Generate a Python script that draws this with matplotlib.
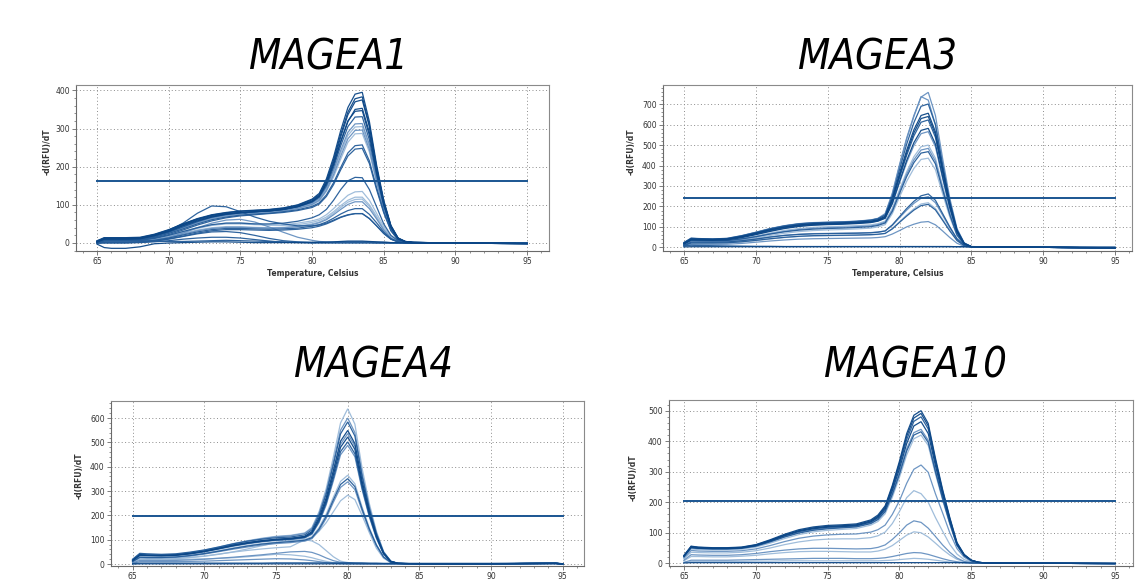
import matplotlib
matplotlib.use('Agg')
import matplotlib.pyplot as plt
from matplotlib import font_manager as fm
from matplotlib.ticker import MultipleLocator, AutoMinorLocator

GENES = ['MAGEA1', 'MAGEA3', 'MAGEA4', 'MAGEA10']
THRESHOLDS = [163, 243, 196, 205]

# ---------------- MAGEA1 ----------------
TEMP_A = [65, 65.5, 66, 67, 68, 69, 70, 71, 72, 73, 74, 75, 76, 77, 78, 79, 80, 80.5,
          81, 81.5, 82, 82.5, 83, 83.5, 84, 84.5, 85, 85.5, 86, 86.5, 87, 88, 90, 95]
MAGEA1_CURVES = [
    [4,13,13,13,14,22,34,50,64,74,80,84,86,88,92,100,115,130,168,225,295,355,390,395,318,205,112,46,13,4,2,1,0,-2],
    [3,12,12,12,13,21,33,48,62,73,79,83,85,87,91,99,113,127,163,218,285,343,378,383,308,198,108,44,12,4,2,1,0,-2],
    [6,14,14,14,15,23,35,50,63,72,77,80,82,84,88,96,110,124,158,212,278,336,370,375,305,197,108,45,13,4,2,1,0,-1],
    [2,10,10,10,11,19,31,46,60,70,76,80,82,84,88,95,108,122,155,205,265,318,350,353,290,190,104,43,12,3,1,0,0,-2],
    [5,11,11,11,12,20,30,45,58,68,75,79,82,85,89,97,110,124,157,207,266,320,345,347,282,184,100,41,11,3,1,0,0,-1],
    [3,9,9,9,10,17,28,42,56,68,75,79,82,84,88,95,107,120,150,198,255,305,330,331,270,178,98,40,11,3,1,0,0,-1],
    [2,8,8,8,9,16,27,40,54,65,72,77,80,83,87,94,105,117,146,190,243,290,312,313,258,170,94,38,10,3,1,0,0,-1],
    [4,10,10,10,11,18,29,43,57,68,74,78,80,82,86,92,103,115,142,185,236,282,304,305,252,166,92,37,10,3,1,0,0,-1],
    [3,9,9,9,10,17,28,41,55,66,73,77,80,82,85,91,101,112,138,179,228,273,295,296,245,162,90,36,10,3,1,0,0,-1],
    [2,7,7,7,8,15,25,38,52,63,70,75,78,80,84,90,100,110,135,173,220,264,286,287,238,158,88,35,9,3,1,0,0,-1],
    [3,8,8,8,9,15,25,37,50,61,68,73,76,78,82,87,96,105,126,158,198,236,255,257,215,145,82,33,9,3,1,0,0,-1],
    [1,6,6,6,7,13,22,34,47,58,66,71,74,77,80,85,93,102,122,153,192,228,246,248,208,140,79,32,8,2,1,0,0,-1],
    [2,6,6,6,7,12,20,30,40,48,52,52,50,50,52,57,66,74,88,112,140,163,172,171,140,95,50,20,6,2,1,0,0,-1],
    [1,5,5,5,6,11,18,28,38,46,50,50,48,47,48,52,58,63,74,90,108,125,134,135,112,78,43,17,5,2,1,0,0,-1],
    [3,7,7,7,8,13,20,30,40,47,52,53,50,47,46,48,54,59,68,82,98,112,120,120,100,70,38,15,5,2,1,0,0,-1],
    [2,4,4,4,5,9,16,25,34,40,43,43,41,40,41,44,50,55,64,78,93,107,114,115,96,67,36,14,4,1,0,0,0,-1],
    [1,3,3,3,4,8,14,23,32,38,41,41,40,39,40,43,48,53,61,74,88,101,108,108,90,63,34,13,4,1,0,0,0,-1],
    [0,2,2,2,3,7,13,21,29,35,38,38,37,36,37,39,44,48,55,65,76,85,90,90,75,53,29,11,3,1,0,0,0,-1],
    [0,1,1,1,2,5,11,18,26,32,35,35,34,33,34,36,40,44,50,58,67,73,77,77,64,45,25,10,3,1,0,0,0,-1],
    [5,12,12,12,13,21,33,52,78,97,95,82,68,57,50,45,45,47,52,60,68,74,77,77,64,45,25,10,3,1,0,0,0,-1],
    [1,3,3,3,4,8,15,26,40,52,60,62,55,42,28,15,7,4,3,2,2,2,2,2,2,1,1,0,0,0,0,0,0,-1],
    [0,1,1,1,2,5,10,17,24,29,30,27,20,12,6,3,1,1,1,1,1,1,1,1,1,0,0,0,0,0,0,0,0,-1],
    [0,0,0,0,1,3,6,10,13,15,15,13,9,5,2,1,0,0,0,0,0,0,0,0,0,0,0,0,0,0,0,0,0,-1],
    [-3,-12,-14,-14,-10,-2,0,1,2,3,3,2,1,1,1,1,1,2,2,3,4,5,5,5,4,3,2,1,1,0,0,0,0,-2],
    [2,6,6,6,6,5,4,4,5,6,7,6,5,4,3,2,2,2,2,2,3,3,3,3,3,2,2,1,1,1,1,0,0,-1],
]
MAGEA1_SHADES = [0,0,0,0,0,1,2,3,2,3,1,1,1,3,3,3,2,1,1,1,2,1,1,0,1]

# ---------------- MAGEA3 ----------------
TEMP_B = [65, 65.5, 66, 67, 68, 69, 70, 71, 72, 73, 74, 75, 76, 77, 78, 78.5, 79, 79.5,
          80, 80.5, 81, 81.5, 82, 82.5, 83, 83.5, 84, 84.5, 85, 86, 88, 90, 95]
MAGEA3_CURVES = [
    [22,44,42,40,43,56,74,92,106,116,121,123,125,128,134,142,165,265,405,535,645,735,758,645,435,240,92,22,4,2,1,0,-3],
    [20,42,41,39,42,55,72,90,104,114,119,121,123,126,132,140,160,260,398,530,640,737,720,600,400,220,85,20,3,2,1,0,-3],
    [24,45,43,41,44,57,73,91,105,115,120,122,124,127,133,140,158,250,380,505,610,690,701,600,405,225,86,20,3,2,1,0,-3],
    [18,40,39,38,40,52,68,86,100,110,116,118,120,123,128,135,152,238,360,475,575,645,656,565,385,215,82,19,3,2,1,0,-3],
    [21,41,40,39,41,53,69,86,99,108,113,115,117,120,125,132,148,232,350,462,560,630,640,552,375,210,80,18,3,2,1,0,-3],
    [19,39,38,37,39,50,65,82,96,106,111,114,116,119,124,131,147,226,340,450,545,612,623,538,366,205,78,18,3,2,1,0,-3],
    [16,36,35,34,36,47,62,78,92,102,108,111,113,116,121,128,142,215,322,425,512,572,582,505,345,194,74,17,3,2,1,0,-3],
    [22,40,39,38,40,50,64,80,94,104,110,113,115,118,122,129,143,212,316,415,498,556,566,492,337,190,72,17,3,2,1,0,-3],
    [15,33,32,31,33,42,55,70,83,92,98,101,103,106,110,116,128,190,282,370,443,492,500,436,300,170,65,15,3,2,1,0,-3],
    [14,31,30,30,31,40,52,66,78,87,93,96,98,101,105,111,123,182,272,358,428,476,484,422,290,164,63,15,3,2,1,0,-3],
    [17,34,33,32,33,41,52,65,76,84,89,92,94,97,101,107,119,176,263,346,414,461,468,408,281,159,61,14,3,2,1,0,-3],
    [13,29,28,28,29,36,46,58,69,77,82,85,87,90,94,100,111,165,246,323,386,430,436,380,262,148,57,13,3,2,1,0,-3],
    [10,25,25,25,26,32,40,50,58,63,66,67,68,69,71,74,80,110,150,190,225,252,261,230,165,100,42,10,2,1,1,0,-2],
    [12,27,27,26,27,33,41,51,59,64,67,68,69,70,72,75,80,107,145,182,215,240,248,218,157,95,40,10,2,1,1,0,-2],
    [8,20,20,20,21,26,33,41,48,53,56,57,58,59,61,63,68,92,125,158,188,212,218,190,137,83,35,9,2,1,1,0,-2],
    [9,21,21,21,22,27,34,42,49,54,57,58,59,60,62,64,68,90,122,153,182,204,210,183,132,80,33,8,2,1,1,0,-2],
    [5,14,14,14,15,19,25,31,36,40,42,43,44,45,46,48,52,65,82,100,113,123,126,110,80,48,20,5,1,1,0,0,-2],
    [2,3,3,3,3,3,3,3,3,3,3,3,3,3,3,3,3,3,3,3,3,3,3,3,3,3,3,3,2,2,2,1,0],
    [8,10,9,8,7,6,5,5,4,4,4,4,4,4,4,4,4,4,4,4,4,4,4,4,4,4,3,3,3,2,2,1,1],
]
MAGEA3_SHADES = [2,2,1,0,0,1,0,2,3,2,1,3,1,2,3,1,2,0,1]

# ---------------- MAGEA4 ----------------
TEMP_C = [65, 65.5, 66, 67, 68, 69, 70, 71, 72, 73, 74, 75, 76, 77, 77.5, 78, 78.5, 79,
          79.5, 80, 80.5, 81, 81.5, 82, 82.5, 83, 83.5, 84, 85, 88, 90, 94.5, 95]
MAGEA4_CURVES = [
    [18,42,40,38,40,47,57,70,84,96,106,114,118,128,150,215,310,440,580,638,575,395,250,135,52,12,3,2,1,1,1,4,0],
    [16,40,38,36,38,45,55,68,82,94,104,112,116,126,146,208,298,420,550,600,540,372,236,128,50,12,3,2,1,1,1,4,0],
    [20,44,42,40,42,49,58,70,83,94,102,108,111,120,140,200,288,408,535,584,526,362,230,125,48,11,3,2,1,1,1,4,0],
    [15,38,36,35,37,44,53,65,78,88,96,102,106,114,133,190,272,385,505,549,495,342,218,118,46,11,3,2,1,1,1,3,0],
    [18,40,38,37,39,46,55,67,79,89,97,102,105,113,131,186,266,376,493,536,484,335,213,116,45,11,3,2,1,1,1,3,0],
    [14,36,35,34,36,42,51,63,75,85,93,99,103,111,128,181,259,366,480,522,471,326,208,113,44,10,3,2,1,1,1,3,0],
    [17,39,37,36,38,44,53,64,76,86,94,99,102,109,125,175,250,352,462,502,453,314,200,109,42,10,3,2,1,1,1,3,0],
    [13,35,34,33,35,41,50,61,73,83,91,97,100,107,122,170,243,342,449,488,441,306,195,106,41,10,3,2,1,1,1,3,0],
    [12,30,29,28,30,36,44,55,66,76,84,90,94,100,112,150,205,275,340,365,330,235,150,80,30,7,2,1,1,1,1,3,0],
    [10,28,27,27,29,35,43,53,64,74,82,88,92,98,108,144,196,264,327,351,318,227,145,78,29,7,2,1,1,1,1,3,0],
    [11,27,26,26,28,33,41,51,61,70,78,84,88,94,104,138,188,254,315,338,306,219,140,75,28,7,2,1,1,1,1,3,0],
    [8,22,21,21,22,27,33,41,49,56,62,67,71,100,110,135,170,215,260,283,265,200,130,65,24,6,2,1,1,1,1,3,0],
    [10,25,24,23,24,27,32,40,50,62,75,88,96,100,95,80,55,30,12,6,4,3,2,2,1,1,1,1,1,1,1,3,0],
    [5,15,15,14,15,17,20,24,28,33,38,44,50,52,48,38,25,14,7,4,3,2,2,1,1,1,1,1,1,1,1,2,0],
    [8,20,20,19,19,20,21,23,26,30,35,40,38,32,26,18,11,6,3,2,2,1,1,1,1,1,1,1,1,1,1,2,0],
    [3,10,10,10,10,11,12,14,16,18,20,22,21,17,14,10,6,3,2,1,1,1,1,1,1,1,1,1,1,1,1,2,0],
    [2,4,4,4,4,4,4,4,4,4,4,5,5,5,5,5,5,5,5,6,5,5,4,4,3,3,3,3,3,3,3,5,1],
    [0,1,1,1,1,1,1,1,1,1,1,1,1,1,1,1,1,1,1,1,1,1,1,1,1,1,1,1,1,1,1,1,0],
]
MAGEA4_SHADES = [3,2,1,0,2,0,1,2,3,1,2,3,3,2,3,2,1,0]

# ---------------- MAGEA10 ----------------
TEMP_D = [65, 65.5, 66, 67, 68, 69, 70, 71, 72, 73, 74, 75, 76, 77, 78, 78.5, 79, 79.5,
          80, 80.5, 81, 81.5, 82, 82.5, 83, 83.5, 84, 84.5, 85, 85.5, 86, 88, 90, 95]
MAGEA10_CURVES = [
    [25,56,53,51,51,53,61,77,95,110,119,124,126,129,142,158,188,255,335,425,485,500,458,345,242,150,68,29,10,3,1,0,0,-1],
    [22,54,51,49,49,51,59,74,92,107,116,121,123,126,139,154,184,250,328,416,476,491,450,338,237,147,66,28,10,3,1,0,0,-1],
    [26,55,52,50,50,52,60,75,92,106,115,120,122,125,137,152,181,245,320,405,465,480,440,330,232,143,64,27,9,3,1,0,0,-1],
    [23,52,49,48,48,50,58,73,90,104,113,118,120,123,135,149,177,238,310,392,450,464,425,320,225,139,62,26,9,3,1,0,0,-1],
    [20,50,48,47,47,49,57,71,87,101,110,115,118,121,132,145,172,230,298,375,428,439,403,305,215,133,60,25,9,3,1,0,0,-1],
    [24,51,49,47,47,49,56,70,86,99,108,113,116,119,130,143,169,225,292,368,420,431,396,300,212,131,59,25,9,3,1,0,0,-1],
    [21,47,45,44,44,46,53,66,81,94,103,108,111,114,125,137,162,216,282,355,408,420,386,293,207,128,58,24,8,3,1,0,0,-1],
    [18,42,40,39,39,41,47,58,71,82,89,93,95,96,102,110,125,160,205,262,308,322,298,228,165,100,48,20,6,2,1,0,0,-1],
    [15,36,35,34,34,36,41,50,61,70,76,79,80,80,84,90,102,130,170,215,238,228,200,150,105,62,30,12,4,1,0,0,0,-1],
    [10,28,27,26,26,28,32,38,43,47,49,49,48,47,48,52,60,78,100,125,139,134,115,88,60,36,17,6,2,1,0,0,0,-1],
    [8,22,22,21,21,23,26,31,35,38,39,39,38,37,37,40,46,58,75,92,103,100,86,66,45,27,13,5,2,1,0,0,0,-1],
    [3,10,10,10,10,11,12,13,14,15,16,16,16,15,15,16,18,22,27,32,35,34,29,22,15,9,5,2,1,0,0,0,0,-1],
    [2,6,6,6,6,6,7,7,8,8,8,8,8,8,8,8,9,10,12,14,16,15,13,10,7,4,2,1,0,0,0,0,0,-1],
    [1,2,2,2,2,2,2,2,2,2,2,2,2,2,2,2,2,2,2,2,2,2,2,2,2,2,2,2,1,1,1,1,1,0],
]
MAGEA10_SHADES = [0,0,1,0,2,1,3,2,3,2,3,2,3,0]

SHADE_COLORS = ['#0b4686', '#245c99', '#6690c0', '#9bbad9']

PANELS = [
    dict(temp=TEMP_A, curves=MAGEA1_CURVES, shades=MAGEA1_SHADES),
    dict(temp=TEMP_B, curves=MAGEA3_CURVES, shades=MAGEA3_SHADES),
    dict(temp=TEMP_C, curves=MAGEA4_CURVES, shades=MAGEA4_SHADES),
    dict(temp=TEMP_D, curves=MAGEA10_CURVES, shades=MAGEA10_SHADES),
]


def narrow_title_font():
    """Pick a condensed italic face if one is installed, else a regular one."""
    for fam, stretch in [('Liberation Sans Narrow', 'normal'), ('DejaVu Sans', 'condensed')]:
        try:
            path = fm.findfont(fm.FontProperties(family=fam, style='italic', stretch=stretch),
                               fallback_to_default=False)
        except Exception:
            continue
        if 'Narrow' in path or 'Condensed' in path:
            return dict(family=fam, fontstretch=stretch, fontsize=30)
    return dict(family=['Liberation Sans', 'DejaVu Sans'], fontsize=28)


TITLE_FONT = narrow_title_font()

W, H = 1142, 581
fig = plt.figure(figsize=(W / 100, H / 100), dpi=100)

# axes boxes in pixels: left, top, right, bottom
BOXES = [(76, 85, 549, 251), (663, 85, 1132, 251), (111, 401, 584, 566), (669, 400, 1133, 566)]
XLIMS = [(63.53, 96.53), (63.54, 96.18), (63.49, 96.48), (63.96, 96.25)]
YLIMS = [(-21, 414), (-18, 794), (-8, 670), (-9, 535)]
YLAB_X = [-0.052, -0.058, -0.057, -0.068]
YLAB_Y = [0.6, 0.6, 0.55, 0.53]
TITLE_POS = [(329, 57), (878, 57), (374, 365), (916, 365)]
SHOW_XLABEL = [True, True, False, False]

for i, p in enumerate(PANELS):
    l, t, r, b = BOXES[i]
    ax = fig.add_axes([l / W, 1 - b / H, (r - l) / W, (b - t) / H])
    for shade in [3, 2, 1, 0]:
        for c, s in zip(p['curves'], p['shades']):
            if s == shade:
                ax.plot(p['temp'], c, color=SHADE_COLORS[s], lw=0.9, alpha=0.95,
                        solid_joinstyle='miter')
    ax.plot([65, 95], [THRESHOLDS[i], THRESHOLDS[i]], color='#1a5592', lw=1.4)
    ax.set_xlim(*XLIMS[i])
    ax.set_ylim(*YLIMS[i])
    ax.xaxis.set_major_locator(MultipleLocator(5))
    ax.xaxis.set_minor_locator(MultipleLocator(1))
    ax.yaxis.set_major_locator(MultipleLocator(100))
    ax.yaxis.set_minor_locator(AutoMinorLocator(5))
    ax.grid(True, which='major', linestyle=(0, (1, 2.5)), color='#8c8c8c', linewidth=0.7)
    ax.set_axisbelow(True)
    ax.tick_params(which='major', length=3, width=0.6, color='#666666',
                   labelsize=5.5, labelcolor='#333333', pad=1.5)
    ax.tick_params(which='minor', length=1.6, width=0.5, color='#666666')
    for side, sp in ax.spines.items():
        sp.set_color('#8a8a8a' if side in ('top', 'right') else '#6a6a6a')
        sp.set_linewidth(0.8)
    ax.set_ylabel('-d(RFU)/dT', fontsize=5.5, fontweight='bold', color='#333333')
    ax.yaxis.set_label_coords(YLAB_X[i], YLAB_Y[i])
    if SHOW_XLABEL[i]:
        ax.set_xlabel('Temperature, Celsius', fontsize=5.5, fontweight='bold',
                      color='#333333', labelpad=2)
    tx, ty = TITLE_POS[i]
    fig.text(tx / W, 1 - ty / H, GENES[i], ha='center', va='center',
             style='italic', color='black', **TITLE_FONT)

fig.savefig('out.png', dpi=100)
